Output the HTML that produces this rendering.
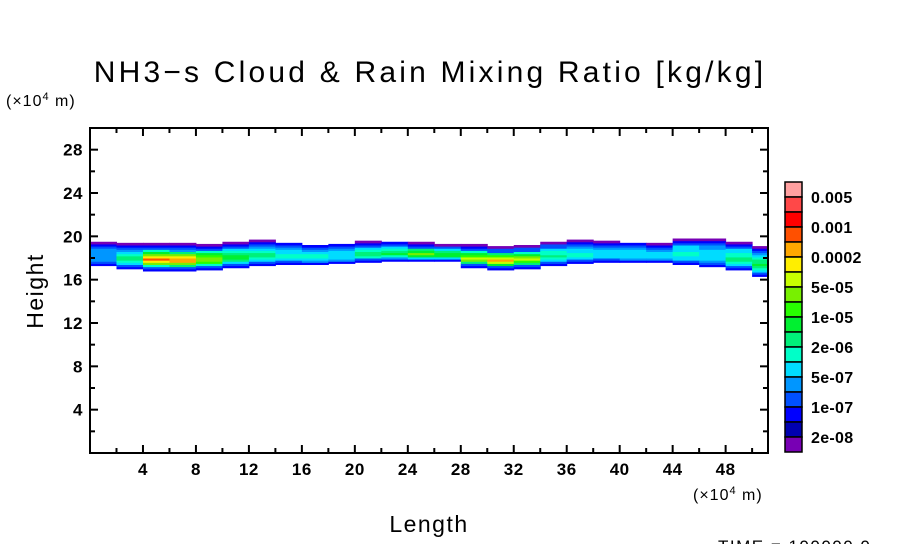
<!DOCTYPE html>
<html><head><meta charset="utf-8"><style>
body{margin:0;background:#fff;}
svg{display:block;font-family:"Liberation Sans",sans-serif;}
</style></head><body>
<svg id="chart" width="904" height="544" viewBox="0 0 904 544">
<text x="430" y="82" font-size="30" letter-spacing="3.2" text-anchor="middle">NH3−s Cloud &amp; Rain Mixing Ratio [kg/kg]</text>
<text x="6" y="106" font-size="16" letter-spacing="1">(×10<tspan dy="-6" font-size="11">4</tspan><tspan dy="6"> m)</tspan></text>
<text x="693" y="500" font-size="16" letter-spacing="1">(×10<tspan dy="-6" font-size="11">4</tspan><tspan dy="6"> m)</tspan></text>
<text x="429" y="532" font-size="23" letter-spacing="1.5" text-anchor="middle">Length</text>
<text transform="translate(43,291) rotate(-90)" font-size="23" letter-spacing="1.5" text-anchor="middle">Height</text>
<text x="718" y="552" font-size="17" letter-spacing="1.5">TIME = 100000.0</text>
<g id="cells"></g>
<g id="axes"></g>
<g id="cbar"></g>
</svg>
<script>
const xCols=[0,2,4,6,8,10,12,14,16,18,20,22,24,26,28,30,32,34,36,38,40,42,44,46,48,50];
const bandBottom=[17.3,17.0,16.8,16.8,16.9,17.1,17.3,17.4,17.4,17.5,17.6,17.7,17.7,17.7,17.1,16.9,17.0,17.3,17.5,17.6,17.6,17.6,17.4,17.2,16.9,16.3];
const bandTop=[19.4,19.3,19.4,19.3,19.3,19.5,19.6,19.4,19.2,19.3,19.5,19.5,19.4,19.2,19.2,19.1,19.2,19.5,19.6,19.5,19.4,19.3,19.8,19.8,19.5,19.1];
const peakLevel=[4,7,14,14,11,8,7,6,6,5,7,8,10,9,11,13,11,7,6,5,5,5,6,5,7,8];
const yTicks=[4,8,12,16,20,24,28];
const xTicks=[4,8,12,16,20,24,28,32,36,40,44,48];
const cbColors=["#ffa0a0","#ff4848","#ff0000","#ff5000","#ffa800","#ffee00","#c8ff00","#78f000","#28ff00","#00f030","#00f07a","#00ffc8","#00dcff","#0096ff","#0050ff","#0000ff","#0000b0","#7800b4"];
const cbLabels=["0.005","0.001","0.0002","5e-05","1e-05","2e-06","5e-07","1e-07","2e-08"];
const NS="http://www.w3.org/2000/svg";
const X0=90,X1=768,Y0=453,Y1=128,XMAX=51.2,YMAX=30;
const sx=v=>X0+v/XMAX*(X1-X0), sy=v=>Y0-v/YMAX*(Y0-Y1);
function mk(t,a,p){const e=document.createElementNS(NS,t);for(const k in a)e.setAttribute(k,a[k]);p.appendChild(e);return e;}
const cells=document.getElementById('cells');
const lvlColor=i=>cbColors[17-i];
for(let c=0;c<xCols.length;c++){
  const b=bandBottom[c],t=bandTop[c],mid=b+0.4*(t-b);
  const x0=sx(xCols[c]),x1=sx(Math.min(xCols[c]+2,XMAX));
  for(let h=b;h<t;h+=0.2){
    const hc=h+0.1;
    const d=hc<mid?(mid-hc)/(mid-b):(hc-mid)/(t-mid);
    if(d>1)continue;
    let lvl;
    if(d>0.92) lvl=(hc>mid?0:2); else if(d>0.78) lvl=2; else if(d>0.6) lvl=3;
    else lvl=Math.max(4,Math.round(4+(peakLevel[c]-4)*Math.pow(1-d/0.6,0.7)));
    if(peakLevel[c]<lvl) lvl=peakLevel[c];
    const r=mk('rect',{x:x0,y:sy(h+0.2),width:x1-x0+0.5,height:sy(h)-sy(h+0.2)+0.5,fill:lvlColor(lvl)},cells);
    
    
  }
}
const ax=document.getElementById('axes');
mk('rect',{x:X0,y:Y1,width:X1-X0,height:Y0-Y1,fill:'none',stroke:'#000','stroke-width':2},ax);
for(let v=2;v<YMAX;v+=2){const y=sy(v),L=(v%4===0)?8:5;
  mk('line',{x1:X0,x2:X0+L,y1:y,y2:y,stroke:'#000','stroke-width':2},ax);
  mk('line',{x1:X1,x2:X1-L,y1:y,y2:y,stroke:'#000','stroke-width':2},ax);}
for(let v=2;v<XMAX;v+=2){const x=sx(v),L=(v%4===0)?8:5;
  mk('line',{x1:x,x2:x,y1:Y0,y2:Y0-L,stroke:'#000','stroke-width':2},ax);
  mk('line',{x1:x,x2:x,y1:Y1,y2:Y1+L,stroke:'#000','stroke-width':2},ax);}
yTicks.forEach(v=>{const t=mk('text',{x:X0-7,y:sy(v)+6,'font-size':17,'font-weight':'bold','letter-spacing':0.5,'text-anchor':'end'},ax);t.textContent=v;
  });
xTicks.forEach(v=>{const t=mk('text',{x:sx(v),y:Y0+22,'font-size':17,'font-weight':'bold','letter-spacing':0.5,'text-anchor':'middle'},ax);t.textContent=v;
  });
const cb=document.getElementById('cbar');
const CX=785,CY=182,BH=15,BW=17;
cbColors.forEach((c,i)=>{const r=mk('rect',{x:CX,y:CY+i*BH,width:BW,height:BH,fill:c,stroke:'#000','stroke-width':1.5},cb);
  });
cbLabels.forEach((l,i)=>{const t=mk('text',{x:CX+26,y:CY+BH*(2*i+1)+6,'font-size':16,'font-weight':'bold','letter-spacing':0.3},cb);t.textContent=l;
  });
</script>
</body></html>
